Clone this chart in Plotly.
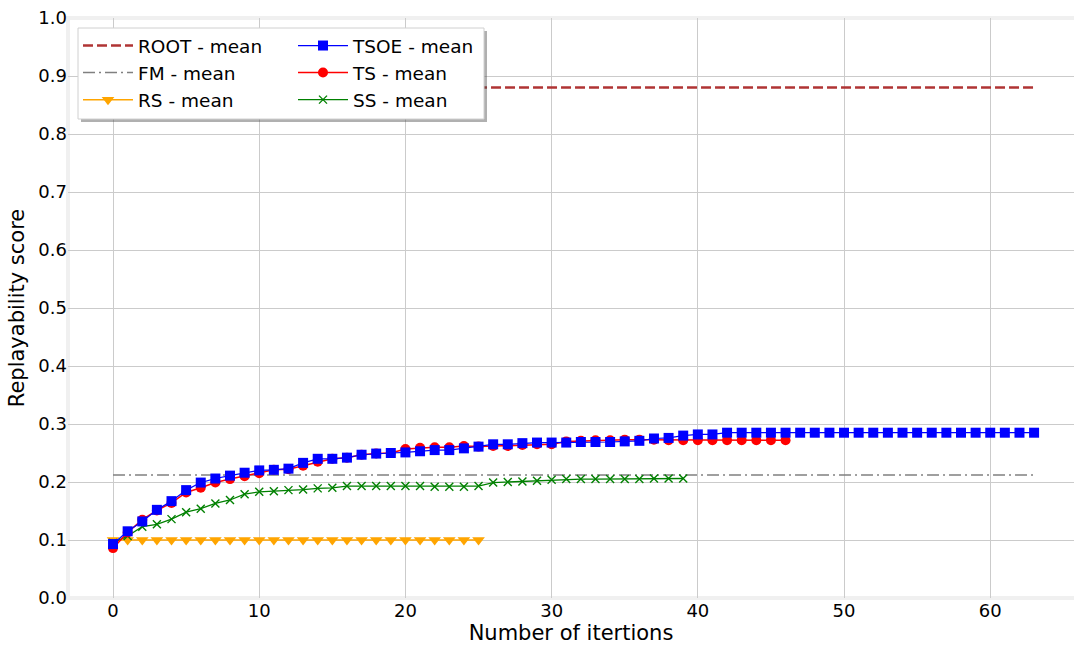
import plotly.graph_objects as go

# ---- data ----
root_x = [0, 63]
root_y = [0.88, 0.88]
fm_x = [0, 63]
fm_y = [0.212, 0.212]

rs_y = [0.1, 0.1, 0.1, 0.1, 0.1, 0.1, 0.1, 0.1, 0.1, 0.1, 0.1, 0.1, 0.1,
        0.1, 0.1, 0.1, 0.1, 0.1, 0.1, 0.1, 0.1, 0.1, 0.1, 0.1, 0.1, 0.1]

tsoe_y = [0.093, 0.115, 0.132, 0.152, 0.167, 0.186, 0.199, 0.206, 0.211, 0.216,
          0.220, 0.221, 0.223, 0.233, 0.240, 0.240, 0.242, 0.247, 0.249, 0.250,
          0.251, 0.253, 0.255, 0.255, 0.258, 0.261, 0.265, 0.265, 0.267, 0.268,
          0.268, 0.268, 0.269, 0.269, 0.269, 0.270, 0.271, 0.275, 0.276, 0.280,
          0.282, 0.282, 0.285, 0.285, 0.285, 0.285, 0.285, 0.285, 0.285, 0.285,
          0.285, 0.285, 0.285, 0.285, 0.285, 0.285, 0.285, 0.285, 0.285, 0.285,
          0.285, 0.285, 0.285, 0.285]

ts_y = [0.086, 0.113, 0.135, 0.151, 0.164, 0.182, 0.190, 0.199, 0.205, 0.210,
        0.215, 0.221, 0.222, 0.228, 0.235, 0.240, 0.242, 0.247, 0.249, 0.250,
        0.257, 0.259, 0.260, 0.260, 0.262, 0.261, 0.262, 0.262, 0.264, 0.265,
        0.265, 0.270, 0.271, 0.272, 0.272, 0.273, 0.273, 0.273, 0.272, 0.272,
        0.272, 0.272, 0.272, 0.272, 0.272, 0.272, 0.272]

ss_y = [0.095, 0.107, 0.123, 0.127, 0.136, 0.148, 0.154, 0.163, 0.169, 0.179,
        0.183, 0.184, 0.186, 0.187, 0.189, 0.190, 0.193, 0.193, 0.193, 0.193,
        0.193, 0.193, 0.192, 0.192, 0.192, 0.193, 0.199, 0.200, 0.201, 0.202,
        0.204, 0.205, 0.205, 0.205, 0.205, 0.205, 0.205, 0.206, 0.206, 0.206]

x_ticks = [0, 10, 20, 30, 40, 50, 60]
y_ticks = [0.0, 0.1, 0.2, 0.3, 0.4, 0.5, 0.6, 0.7, 0.8, 0.9, 1.0]
y_tick_text = ["0.0", "0.1", "0.2", "0.3", "0.4", "0.5", "0.6", "0.7", "0.8", "0.9", "1.0"]

FONT = "DejaVu Sans"

fig = go.Figure()

fig.add_trace(go.Scatter(x=root_x, y=root_y, mode="lines", name="ROOT - mean",
                         line=dict(color="#b03434", width=2.5, dash="10px,4px"),
                         legend="legend", legendrank=1))
fig.add_trace(go.Scatter(x=fm_x, y=fm_y, mode="lines", name="FM - mean",
                         line=dict(color="#808080", width=1.5, dash="12px,4px,2px,4px"),
                         legend="legend", legendrank=2))
fig.add_trace(go.Scatter(x=list(range(len(rs_y))), y=rs_y, mode="lines+markers",
                         name="RS - mean",
                         line=dict(color="#ffa500", width=1.5),
                         marker=dict(symbol="triangle-down", size=11, color="#ffa500"),
                         legend="legend", legendrank=3))
fig.add_trace(go.Scatter(x=list(range(len(ss_y))), y=ss_y, mode="lines+markers",
                         name="SS - mean",
                         line=dict(color="#008000", width=1.3),
                         marker=dict(symbol="x-thin", size=8, color="#008000",
                                     line=dict(color="#008000", width=1.4)),
                         legend="legend2", legendrank=6))
fig.add_trace(go.Scatter(x=list(range(len(ts_y))), y=ts_y, mode="lines+markers",
                         name="TS - mean",
                         line=dict(color="#ff0000", width=1.5),
                         marker=dict(symbol="circle", size=10, color="#ff0000"),
                         legend="legend2", legendrank=5))
fig.add_trace(go.Scatter(x=list(range(len(tsoe_y))), y=tsoe_y, mode="lines+markers",
                         name="TSOE - mean",
                         line=dict(color="#0000ff", width=1.2),
                         marker=dict(symbol="square", size=10, color="#0000ff"),
                         legend="legend2", legendrank=4))

# plot area geometry (pixels)
L, T, W, H = 68, 18, 1006, 580


def px2paper_x(px):
    return (px - L) / W


def py2paper_y(py):
    return (T + H - py) / H


bx0, bx1, by0, by1 = 78, 484, 28, 119
shapes = [
    # light frame around the axes (right side runs off the canvas)
    dict(type="rect", xref="paper", yref="paper", layer="below",
         x0=0, x1=1.01, y0=0, y1=1, line=dict(color="#f0f0f0", width=4),
         fillcolor="rgba(0,0,0,0)"),
    # legend shadow + box
    dict(type="rect", xref="paper", yref="paper", layer="above",
         x0=px2paper_x(bx0 + 3), x1=px2paper_x(bx1 + 3),
         y0=py2paper_y(by1 + 3), y1=py2paper_y(by0 + 3),
         fillcolor="rgba(80,80,80,0.45)", line=dict(width=0)),
    dict(type="rect", xref="paper", yref="paper", layer="above",
         x0=px2paper_x(bx0), x1=px2paper_x(bx1),
         y0=py2paper_y(by1), y1=py2paper_y(by0),
         fillcolor="white", line=dict(color="#d0d0d0", width=1)),
]

legend_common = dict(bgcolor="rgba(0,0,0,0)", borderwidth=0,
                     font=dict(family=FONT, size=18.5, color="black"),
                     yanchor="top", xanchor="left", tracegroupgap=0,
                     itemwidth=50)

fig.update_layout(
    width=1074, height=648,
    margin=dict(l=L, r=0, t=T, b=648 - T - H, pad=0),
    paper_bgcolor="white", plot_bgcolor="white",
    font=dict(family=FONT, size=18, color="black"),
    shapes=shapes,
    legend=dict(x=px2paper_x(78), y=py2paper_y(27), **legend_common),
    legend2=dict(x=px2paper_x(293), y=py2paper_y(27), **legend_common),
    xaxis=dict(range=[-3.08, 65.73], tickvals=x_ticks,
               showgrid=True, gridcolor="#cbcbcb", gridwidth=1,
               zeroline=False, showline=False, ticks="",
               automargin=False,
               tickfont=dict(family=FONT, size=18, color="black"),
               title=dict(text="Number of itertions", standoff=4,
                          font=dict(family=FONT, size=21, color="black"))),
    yaxis=dict(range=[0, 1.0], tickvals=y_ticks, ticktext=y_tick_text,
               showgrid=True, gridcolor="#cbcbcb", gridwidth=1,
               zeroline=False, showline=False, ticks="",
               automargin=False,
               tickfont=dict(family=FONT, size=18, color="black"),
               title=dict(text="Replayability score", standoff=8,
                          font=dict(family=FONT, size=21, color="black"))),
)

fig.write_html("out.html")
